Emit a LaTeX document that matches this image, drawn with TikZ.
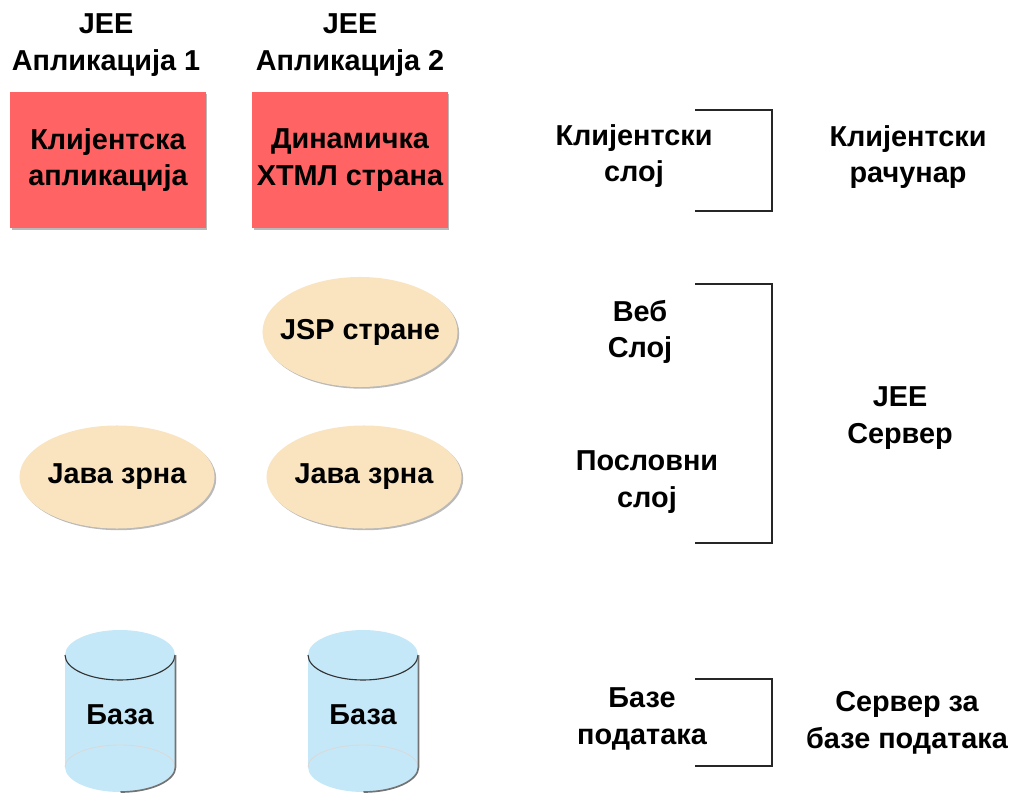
\documentclass[tikz,border=0pt]{standalone}
\usepackage{fontspec}
\setmainfont{Liberation Sans}
\usetikzlibrary{shapes.geometric,shadows}
\definecolor{crvena}{RGB}{255,99,99}
\definecolor{krem}{RGB}{250,228,192}
\definecolor{plava}{RGB}{197,232,249}
\begin{document}
\begin{tikzpicture}[x=0.025cm,y=-0.025cm,
  lbl/.style={align=center,font=\bfseries\fontsize{20.5}{26}\selectfont},
  senka/.style={drop shadow={shadow xshift=1.2pt,shadow yshift=-1.2pt,fill=black!55}},
  kutija/.style={lbl,fill=crvena,senka,minimum width=4.875cm,minimum height=3.4cm,inner sep=0pt},
  zrno/.style={lbl,ellipse,fill=krem,senka,minimum width=4.875cm,inner ysep=0pt,inner xsep=-0.5cm}]
\useasboundingbox (0,0) rectangle (1014,794);
% aplikacije
\node[lbl] (app1) at (106,45) {JEE\\Апликација 1};
\node[lbl] (app2) at (350,45) {JEE\\Апликација 2};
\node[kutija] (klijent) at (108,160) {Клијентска\\апликација};
\node[kutija] (xhtml) at (350,160) {Динамичка\\ХТМЛ страна};
\node[zrno,minimum height=2.75cm] (jsp) at (360,332) {JSP стране};
\node[zrno,minimum height=2.575cm] (zrno1) at (117,477) {Јава зрна};
\node[zrno,minimum height=2.575cm] (zrno2) at (364,477) {Јава зрна};
% baze
\foreach \cx/\ime in {120/baza1,363/baza2}{
  \fill[plava] (\cx-55,655) -- (\cx-55,767) arc (180:0:55 and 25) -- (\cx+55,655) arc (0:-180:55 and 25) -- cycle;
  \draw[white!85!black,line width=0.6pt] (\cx-55,767) arc (180:360:55 and 22);
  \draw[black!80,line width=0.8pt] (\cx-55,655) arc (180:0:55 and 25);
  \draw[black!55,line width=1.2pt] (\cx+55.5,655) -- (\cx+55.5,767) arc (0:90:55 and 25);
  \node[lbl] (\ime) at (\cx,715) {База};
}
% slojevi
\foreach \t/\b in {110/211,284/543,679/766}
  \draw[black!85,line width=0.9pt] (695,\t) -- (772,\t) -- (772,\b) -- (695,\b);
\node[lbl] (ksloj) at (634,156) {Клијентски\\слој};
\node[lbl] (veb) at (640,332) {Веб\\Слој};
\node[lbl] (posl) at (647,482) {Пословни\\слој};
\node[lbl] (bsloj) at (642,719) {Базе\\података};
\node[lbl] (racunar) at (908,157) {Клијентски\\рачунар};
\node[lbl] (server) at (900,418) {JEE\\Сервер};
\node[lbl] (bserver) at (907,723) {Сервер за\\базе података};
\end{tikzpicture}
\end{document}
